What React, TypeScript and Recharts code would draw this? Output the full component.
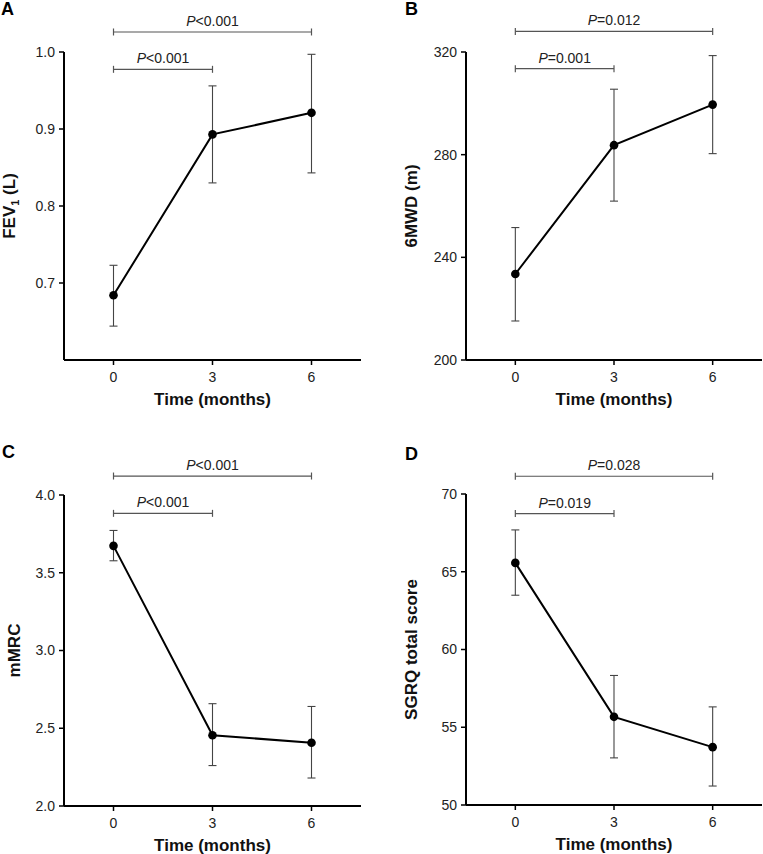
import React from 'react';
import { LineChart, Line, XAxis, YAxis, ErrorBar, ReferenceLine } from 'recharts';

const months = [0, 3, 6];
const xTicks = [0, 3, 6];

// FEV1 (L)
const fevMean = [0.684, 0.893, 0.921];
const fevLow = [0.644, 0.83, 0.843];
const fevHigh = [0.723, 0.956, 0.997];
const fevTicks = [0.7, 0.8, 0.9, 1.0];

// 6MWD (m)
const mwdMean = [233.5, 283.7, 299.5];
const mwdLow = [215.2, 261.9, 280.4];
const mwdHigh = [251.6, 305.5, 318.6];
const mwdTicks = [200, 240, 280, 320];

// mMRC
const mmrcMean = [3.673, 2.455, 2.407];
const mmrcLow = [3.577, 2.26, 2.18];
const mmrcHigh = [3.772, 2.658, 2.64];
const mmrcTicks = [2.0, 2.5, 3.0, 3.5, 4.0];

// SGRQ total score
const sgrqMean = [65.57, 55.67, 53.72];
const sgrqLow = [63.49, 53.03, 51.22];
const sgrqHigh = [67.69, 58.33, 56.31];
const sgrqTicks = [50, 55, 60, 65, 70];

// significance brackets (from month 0 to `to`, drawn at height y)
const fevBrackets = [{ to: 3, y: 0.9775, p: '<0.001' }, { to: 6, y: 1.026, p: '<0.001' }];
const mwdBrackets = [{ to: 3, y: 313.5, p: '=0.001' }, { to: 6, y: 328, p: '=0.012' }];
const mmrcBrackets = [{ to: 3, y: 3.882, p: '<0.001' }, { to: 6, y: 4.122, p: '<0.001' }];
const sgrqBrackets = [{ to: 3, y: 68.74, p: '=0.019' }, { to: 6, y: 71.14, p: '=0.028' }];

const FONT = 'Arial, "Liberation Sans", Helvetica, sans-serif';

const mkRows = (mean: number[], low: number[], high: number[]) =>
  months.map((m, i) => ({ month: m, mean: mean[i], err: [mean[i] - low[i], high[i] - mean[i]] }));

const bracketShape = (p: string) => (props: any) => {
  const { x1, x2, y1 } = props;
  return (
    <g>
      <line x1={x1} y1={y1} x2={x2} y2={y1} stroke="#555" strokeWidth={1.2} />
      <line x1={x1} y1={y1 - 3.5} x2={x1} y2={y1 + 3.5} stroke="#555" strokeWidth={1.2} />
      <line x1={x2} y1={y1 - 3.5} x2={x2} y2={y1 + 3.5} stroke="#555" strokeWidth={1.2} />
      <text x={(x1 + x2) / 2} y={y1 - 6} textAnchor="middle" fontSize={14} fill="#222" fontFamily={FONT}>
        <tspan fontStyle="italic">P</tspan>{p}
      </text>
    </g>
  );
};

interface PanelProps {
  left: number; top: number; width: number; height: number;
  margin: { top: number; right: number; bottom: number; left: number };
  yWidth: number; xHeight: number;
  domain: [number, number]; ticks: number[]; digits: number;
  mean: number[]; low: number[]; high: number[];
  brackets: { to: number; y: number; p: string }[];
  yLabel: React.ReactNode; yLabelX: number;
}

const Panel: React.FC<PanelProps> = (pr) => {
  const data = mkRows(pr.mean, pr.low, pr.high);
  const plotTop = pr.margin.top;
  const plotBottom = pr.height - pr.margin.bottom - pr.xHeight;
  const plotMidY = (plotTop + plotBottom) / 2;
  const plotMidX = (pr.yWidth + pr.width - pr.margin.right) / 2;

  return (
    <div style={{ position: 'absolute', left: pr.left, top: pr.top }}>
      <LineChart width={pr.width} height={pr.height} data={data} margin={pr.margin}>
        <XAxis
          type="number" dataKey="month" domain={[-1.5, 7.5]} ticks={xTicks} height={pr.xHeight}
          axisLine={{ stroke: '#000', strokeWidth: 2 }} tickLine={{ stroke: '#000', strokeWidth: 1.5 }}
          tickSize={5} tickMargin={7}
          tick={{ fill: '#222', fontSize: 14, fontFamily: FONT }}
          label={() => (
            <text x={plotMidX} y={plotBottom + 45} textAnchor="middle" fontSize={17} fontWeight="bold" fill="#111" fontFamily={FONT}>
              Time (months)
            </text>
          )}
        />
        <YAxis
          type="number" domain={pr.domain} ticks={pr.ticks} width={pr.yWidth} interval={0}
          tickFormatter={(v: number) => v.toFixed(pr.digits)}
          axisLine={{ stroke: '#000', strokeWidth: 2 }} tickLine={{ stroke: '#000', strokeWidth: 1.5 }}
          tickSize={5} tickMargin={4}
          tick={{ fill: '#222', fontSize: 14, fontFamily: FONT }}
          label={() => (
            <text x={pr.yLabelX} y={plotMidY} transform={`rotate(-90, ${pr.yLabelX}, ${plotMidY})`}
              textAnchor="middle" fontSize={17} fontWeight="bold" fill="#111" fontFamily={FONT}>
              {pr.yLabel}
            </text>
          )}
        />
        {pr.brackets.map((b, i) => (
          <ReferenceLine key={i} segment={[{ x: 0, y: b.y }, { x: b.to, y: b.y }]}
            ifOverflow="visible" shape={bracketShape(b.p)} />
        ))}
        <Line type="linear" dataKey="mean" stroke="#000" strokeWidth={2}
          dot={{ r: 4.3, fill: '#000', stroke: '#000', strokeWidth: 0 }} activeDot={false}
          isAnimationActive={false}>
          <ErrorBar dataKey="err" direction="y" width={4} stroke="#444" strokeWidth={1.1} isAnimationActive={false} />
        </Line>
      </LineChart>
    </div>
  );
};

const letterStyle = { fontSize: 18, fontWeight: 'bold' as const, fill: '#000', fontFamily: FONT };

export default function App() {
  return (
    <div style={{ position: 'absolute', left: 0, top: 0, width: 763, height: 854, background: '#fff' }}>
      <Panel left={0} top={0} width={380} height={420} margin={{ top: 52, right: 19, bottom: 10, left: 0 }}
        yWidth={64} xHeight={50} domain={[0.6, 1.0]} ticks={fevTicks} digits={1}
        mean={fevMean} low={fevLow} high={fevHigh} brackets={fevBrackets} yLabelX={15}
        yLabel={<>FEV<tspan dy={4} fontSize={11}>1</tspan><tspan dy={-4}> (L)</tspan></>} />
      <Panel left={380} top={0} width={383} height={420} margin={{ top: 52, right: 1, bottom: 10, left: 0 }}
        yWidth={86} xHeight={50} domain={[200, 320]} ticks={mwdTicks} digits={0}
        mean={mwdMean} low={mwdLow} high={mwdHigh} brackets={mwdBrackets} yLabelX={37}
        yLabel="6MWD (m)" />
      <Panel left={0} top={420} width={380} height={434} margin={{ top: 75, right: 19, bottom: 8, left: 0 }}
        yWidth={64} xHeight={40} domain={[2, 4]} ticks={mmrcTicks} digits={1}
        mean={mmrcMean} low={mmrcLow} high={mmrcHigh} brackets={mmrcBrackets} yLabelX={20}
        yLabel="mMRC" />
      <Panel left={380} top={420} width={383} height={434} margin={{ top: 74, right: 1, bottom: 9, left: 0 }}
        yWidth={86} xHeight={40} domain={[50, 70]} ticks={sgrqTicks} digits={0}
        mean={sgrqMean} low={sgrqLow} high={sgrqHigh} brackets={sgrqBrackets} yLabelX={37}
        yLabel="SGRQ total score" />
      <svg width={763} height={854} style={{ position: 'absolute', left: 0, top: 0, pointerEvents: 'none' }}>
        <text x={1} y={15} {...letterStyle}>A</text>
        <text x={405} y={15} {...letterStyle}>B</text>
        <text x={2} y={458} {...letterStyle}>C</text>
        <text x={405} y={460} {...letterStyle}>D</text>
      </svg>
    </div>
  );
}
